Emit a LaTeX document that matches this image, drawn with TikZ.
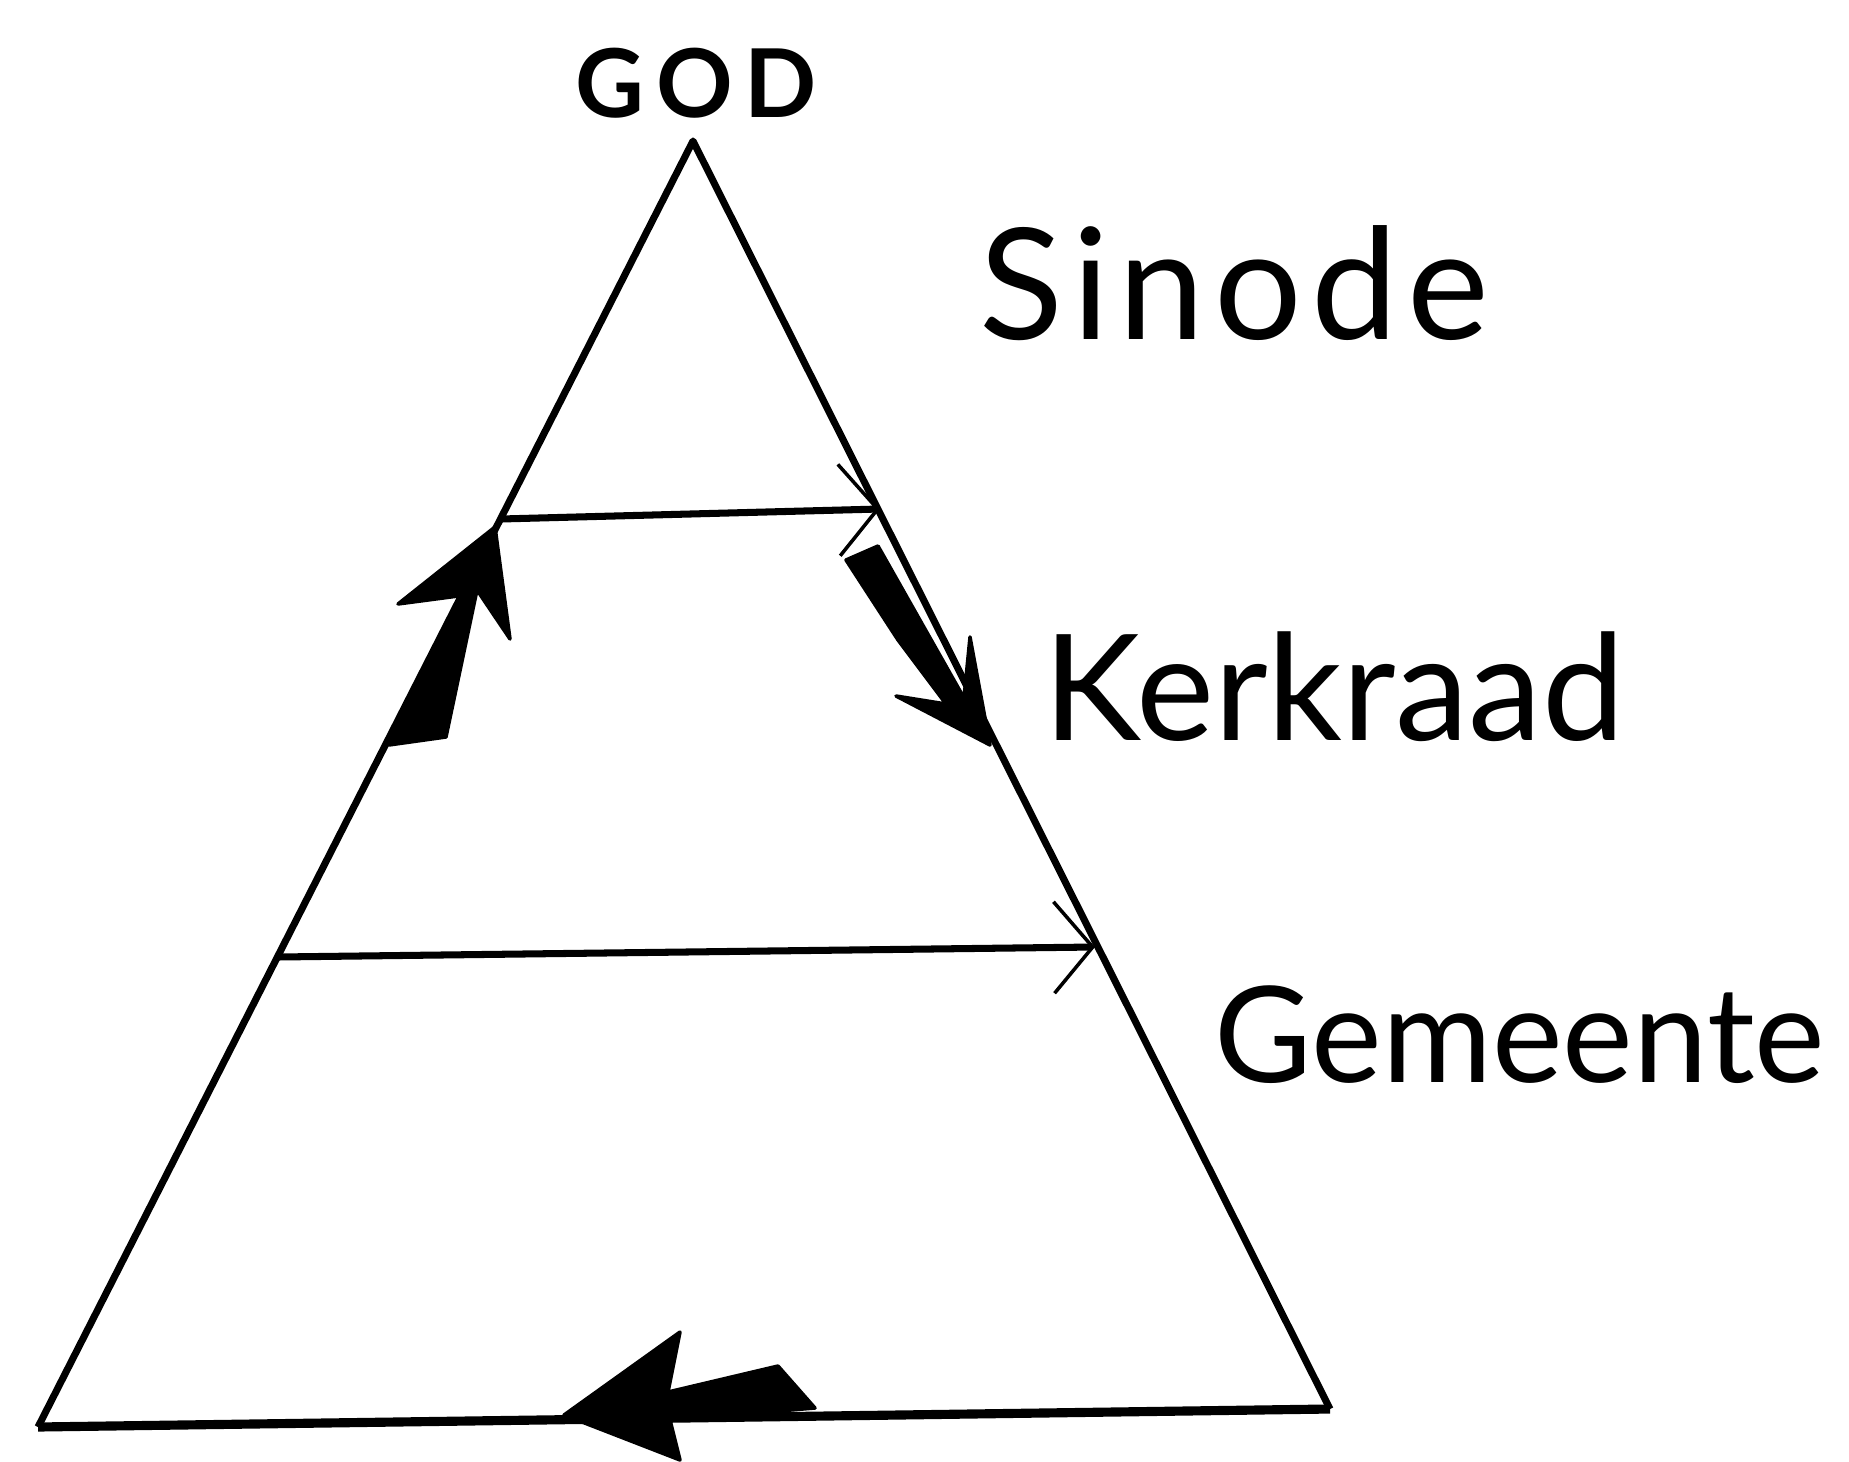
\documentclass[tikz,border=0pt]{standalone}
\usepackage{fontspec}
\setmainfont{Lato}
\usetikzlibrary{arrows.meta}

\tikzset{
  edge/.style={line width=2pt, line join=round},
  level/.style={line width=2pt, -{Straight Barb[length=11pt,width=26pt,line width=1pt]}},
  tag/.style={anchor=base west, inner sep=0pt, font=\fontsize{42}{48}\selectfont},
  bigarrow/.style={fill=black, draw=black, line width=1pt, line join=round},
}

\begin{document}
\begin{tikzpicture}[x=0.01cm, y=-0.01cm]
  \useasboundingbox (0,0) rectangle (1849,1461);
  % Triangle
  \coordinate (top) at (693,141);
  \coordinate (bl) at (38,1427);
  \coordinate (br) at (1330,1409);
  \draw[edge] (bl) -- (top) -- (br);
  \draw[edge, line width=2.6pt] (br) -- (bl);
  \node[anchor=base, inner sep=0pt, font=\fontsize{27}{31}\selectfont\bfseries\addfontfeatures{LetterSpace=12}] (god) at (696,118) {GOD};
  % Levels
  \coordinate (s1) at (501,519);
  \coordinate (e1) at (880,509);
  \coordinate (s2) at (278,957);
  \coordinate (e2) at (1095,947);
  \draw[level] (s1) -- (e1);
  \draw[level] (s2) -- (e2);
  % Labels
  \node[tag, font=\fontsize{44}{50}\selectfont\addfontfeatures{LetterSpace=6}] (sinode) at (979,340) {Sinode};
  \node[tag] (kerkraad) at (1043,740) {Kerkraad};
  \node[tag, font=\fontsize{38}{44}\selectfont] (gemeente) at (1214,1082) {Gemeente};
  % Big arrows
  \fill[bigarrow] (495,527) -- (398,604) -- (466,595) -- (389,745) -- (446,737)
    -- (477,590) -- (510,639) -- cycle;
  \fill[bigarrow] (846,560) -- (878,546) -- (964,698) -- (970,637) -- (990,745)
    -- (896,696) -- (946,704) -- (898,640) -- cycle;
  \fill[bigarrow] (564,1415) -- (680,1332) -- (668,1392) -- (778,1366) -- (815,1408)
    -- (670,1420) -- (680,1460) -- cycle;
\end{tikzpicture}
\end{document}
